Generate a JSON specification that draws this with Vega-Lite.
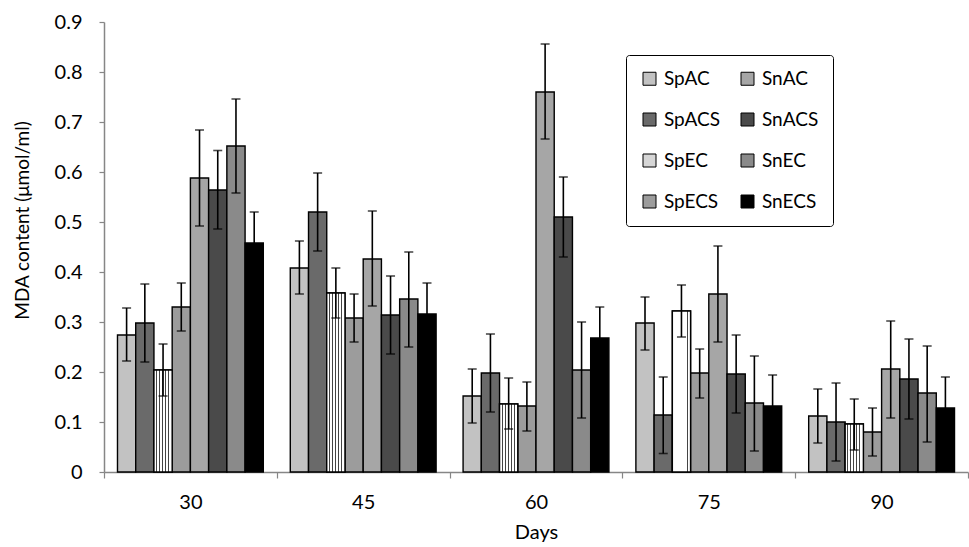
{
  "$schema": "https://vega.github.io/schema/vega-lite/v6.json",
  "width": 864,
  "height": 450,
  "autosize": {"type": "none"},
  "padding": {"left": 104, "top": 22, "right": 1, "bottom": 75},
  "background": "white",
  "config": {"view": {"stroke": null}, "font": "Lato", "axis": {"grid": false}},
  "data": {"values": [
    {"day": "30", "series": "SpAC", "value": 0.274, "lo": 0.222, "hi": 0.328},
    {"day": "30", "series": "SpACS", "value": 0.298, "lo": 0.22, "hi": 0.376},
    {"day": "30", "series": "SpEC", "value": 0.204, "lo": 0.152, "hi": 0.256},
    {"day": "30", "series": "SpECS", "value": 0.33, "lo": 0.282, "hi": 0.378},
    {"day": "30", "series": "SnAC", "value": 0.588, "lo": 0.492, "hi": 0.684},
    {"day": "30", "series": "SnACS", "value": 0.564, "lo": 0.486, "hi": 0.643},
    {"day": "30", "series": "SnEC", "value": 0.652, "lo": 0.558, "hi": 0.746},
    {"day": "30", "series": "SnECS", "value": 0.458, "lo": 0.396, "hi": 0.52},
    {"day": "45", "series": "SpAC", "value": 0.408, "lo": 0.356, "hi": 0.462},
    {"day": "45", "series": "SpACS", "value": 0.52, "lo": 0.442, "hi": 0.598},
    {"day": "45", "series": "SpEC", "value": 0.358, "lo": 0.308, "hi": 0.408},
    {"day": "45", "series": "SpECS", "value": 0.308, "lo": 0.26, "hi": 0.356},
    {"day": "45", "series": "SnAC", "value": 0.426, "lo": 0.332, "hi": 0.522},
    {"day": "45", "series": "SnACS", "value": 0.314, "lo": 0.236, "hi": 0.392},
    {"day": "45", "series": "SnEC", "value": 0.346, "lo": 0.25, "hi": 0.44},
    {"day": "45", "series": "SnECS", "value": 0.316, "lo": 0.254, "hi": 0.378},
    {"day": "60", "series": "SpAC", "value": 0.152, "lo": 0.098, "hi": 0.206},
    {"day": "60", "series": "SpACS", "value": 0.198, "lo": 0.12, "hi": 0.276},
    {"day": "60", "series": "SpEC", "value": 0.136, "lo": 0.086, "hi": 0.188},
    {"day": "60", "series": "SpECS", "value": 0.132, "lo": 0.082, "hi": 0.18},
    {"day": "60", "series": "SnAC", "value": 0.76, "lo": 0.666, "hi": 0.856},
    {"day": "60", "series": "SnACS", "value": 0.51, "lo": 0.43, "hi": 0.59},
    {"day": "60", "series": "SnEC", "value": 0.204, "lo": 0.108, "hi": 0.3},
    {"day": "60", "series": "SnECS", "value": 0.268, "lo": 0.206, "hi": 0.33},
    {"day": "75", "series": "SpAC", "value": 0.298, "lo": 0.244, "hi": 0.35},
    {"day": "75", "series": "SpACS", "value": 0.114, "lo": 0.037, "hi": 0.19},
    {"day": "75", "series": "SpEC", "value": 0.322, "lo": 0.27, "hi": 0.374},
    {"day": "75", "series": "SpECS", "value": 0.198, "lo": 0.148, "hi": 0.246},
    {"day": "75", "series": "SnAC", "value": 0.356, "lo": 0.26, "hi": 0.452},
    {"day": "75", "series": "SnACS", "value": 0.196, "lo": 0.118, "hi": 0.274},
    {"day": "75", "series": "SnEC", "value": 0.138, "lo": 0.042, "hi": 0.232},
    {"day": "75", "series": "SnECS", "value": 0.132, "lo": 0.07, "hi": 0.194},
    {"day": "90", "series": "SpAC", "value": 0.112, "lo": 0.058, "hi": 0.166},
    {"day": "90", "series": "SpACS", "value": 0.1, "lo": 0.022, "hi": 0.178},
    {"day": "90", "series": "SpEC", "value": 0.096, "lo": 0.044, "hi": 0.146},
    {"day": "90", "series": "SpECS", "value": 0.08, "lo": 0.032, "hi": 0.128},
    {"day": "90", "series": "SnAC", "value": 0.206, "lo": 0.108, "hi": 0.302},
    {"day": "90", "series": "SnACS", "value": 0.186, "lo": 0.106, "hi": 0.266},
    {"day": "90", "series": "SnEC", "value": 0.158, "lo": 0.06, "hi": 0.252},
    {"day": "90", "series": "SnECS", "value": 0.128, "lo": 0.066, "hi": 0.19}
  ]},
  "encoding": {
    "x": {
      "field": "day", "type": "nominal", "sort": ["30", "45", "60", "75", "90"],
      "scale": {"paddingInner": 0, "paddingOuter": 0},
      "axis": {
        "title": "Days", "titleFontSize": 20, "titleFontWeight": "normal", "titleColor": "black", "titlePadding": 10,
        "labelAngle": 0, "labelFontSize": 20, "labelColor": "black", "labelPadding": 14,
        "tickBand": "extent", "tickSize": 6, "tickColor": "#868686", "domainColor": "#868686", "domainWidth": 1.5, "tickWidth": 1.2
      }
    },
    "xOffset": {
      "field": "series", "type": "nominal",
      "scale": {"domain": ["SpAC", "SpACS", "SpEC", "SpECS", "SnAC", "SnACS", "SnEC", "SnECS"], "paddingInner": 0, "paddingOuter": 0.74}
    }
  },
  "layer": [
    {
      "mark": {"type": "bar", "stroke": "black", "strokeWidth": 1.4},
      "encoding": {
        "y": {
          "field": "value", "type": "quantitative",
          "scale": {"domain": [0, 0.9], "nice": false},
          "axis": {
            "title": "MDA content (μmol/ml)", "titleFontSize": 19, "titleFontWeight": "normal", "titleColor": "black",
            "titleX": -72, "titleY": 198,
            "values": [0, 0.1, 0.2, 0.3, 0.4, 0.5, 0.6, 0.7, 0.8, 0.9], "format": ".1~f",
            "labelFontSize": 20, "labelColor": "black", "labelPadding": 17,
            "tickSize": 5, "tickColor": "#868686", "domainColor": "#868686", "domainWidth": 1.5, "tickWidth": 1.2
          }
        },
        "color": {
          "field": "series", "type": "nominal",
          "scale": {
            "domain": ["SpAC", "SpACS", "SpEC", "SpECS", "SnAC", "SnACS", "SnEC", "SnECS"],
            "range": ["#c2c2c2", "#6a6a6a", "#d6d6d6", "#9c9c9c", "#a6a6a6", "#4a4a4a", "#8a8a8a", "#000000"]
          },
          "legend": {
            "orient": "none", "legendX": 522, "legendY": 33, "columns": 2, "title": null,
            "strokeColor": "black", "cornerRadius": 3, "fillColor": "white",
            "padding": 14, "symbolType": "square", "symbolSize": 169,
            "symbolStrokeColor": "black", "symbolStrokeWidth": 1,
            "labelFontSize": 19, "labelColor": "black", "labelOffset": 5,
            "rowPadding": 21, "columnPadding": 18
          }
        }
      }
    },
    {
      "transform": [{"filter": "datum.series === 'SpEC'"}],
      "mark": {
        "type": "bar", "stroke": "black", "strokeWidth": 1.4,
        "fill": {
          "gradient": "linear", "x1": 0, "y1": 0, "x2": 1, "y2": 0,
          "stops": [
            {"offset": 0, "color": "white"}, {"offset": 0.12, "color": "white"},
            {"offset": 0.12, "color": "#444444"}, {"offset": 0.1667, "color": "#444444"},
            {"offset": 0.1667, "color": "white"}, {"offset": 0.2867, "color": "white"},
            {"offset": 0.2867, "color": "#444444"}, {"offset": 0.3333, "color": "#444444"},
            {"offset": 0.3333, "color": "white"}, {"offset": 0.4533, "color": "white"},
            {"offset": 0.4533, "color": "#444444"}, {"offset": 0.5, "color": "#444444"},
            {"offset": 0.5, "color": "white"}, {"offset": 0.62, "color": "white"},
            {"offset": 0.62, "color": "#444444"}, {"offset": 0.6667, "color": "#444444"},
            {"offset": 0.6667, "color": "white"}, {"offset": 0.7867, "color": "white"},
            {"offset": 0.7867, "color": "#444444"}, {"offset": 0.8333, "color": "#444444"},
            {"offset": 0.8333, "color": "white"}, {"offset": 1, "color": "white"}
          ]
        }
      },
      "encoding": {"y": {"field": "value", "type": "quantitative"}}
    },
    {
      "mark": {"type": "rule", "color": "black", "strokeWidth": 1.6},
      "encoding": {"y": {"field": "lo", "type": "quantitative"}, "y2": {"field": "hi"}}
    },
    {
      "mark": {"type": "tick", "color": "black", "size": 9, "thickness": 1.6},
      "encoding": {"y": {"field": "hi", "type": "quantitative"}}
    },
    {
      "mark": {"type": "tick", "color": "black", "size": 9, "thickness": 1.6},
      "encoding": {"y": {"field": "lo", "type": "quantitative"}}
    }
  ]
}
